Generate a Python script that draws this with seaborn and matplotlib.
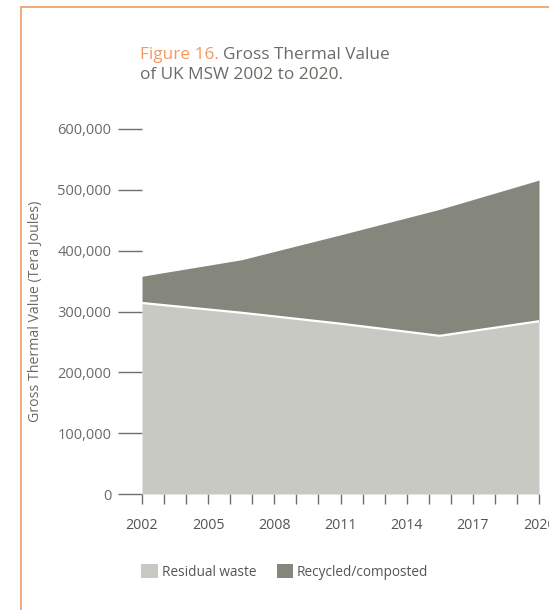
import numpy as np
import matplotlib.pyplot as plt
import seaborn as sns
from matplotlib.lines import Line2D
from matplotlib.patches import Patch
from matplotlib.ticker import FuncFormatter, MultipleLocator

# values (TJ)
years = [2002, 2006.5, 2011, 2015.5, 2020]
residual = [314000, 298000, 280000, 260000, 284000]
recycled = [44000, 87000, 146000, 208000, 232000]
tick_years = [2002, 2005, 2008, 2011, 2014, 2017, 2020]
y_ticks = [0, 100000, 200000, 300000, 400000, 500000, 600000]

RESIDUAL_COL = '#c8c9c3'
RECYCLED_COL = '#85867c'
ORANGE = '#f29a62'
TEXT_COL = '#6b6b66'

sns.set_style('white')
plt.rcParams['font.family'] = ['Open Sans', 'DejaVu Sans']

fig = plt.figure(figsize=(5.49, 6.10), dpi=100)
ax = fig.add_axes([142 / 549, 116 / 610, 397 / 549, 365 / 610])

total = np.array(residual) + np.array(recycled)
ax.fill_between(years, 0, residual, color=RESIDUAL_COL, linewidth=0)
ax.fill_between(years, residual, total, color=RECYCLED_COL, linewidth=0)
sns.lineplot(x=years, y=residual, ax=ax, color='white', linewidth=1.6)

ax.set_xlim(2002, 2020)
ax.set_ylim(0, 600000)
ax.set_yticks(y_ticks)
ax.yaxis.set_major_formatter(FuncFormatter(lambda v, p: f'{int(v):,}'))
ax.set_xticks(tick_years)
ax.xaxis.set_minor_locator(MultipleLocator(1))
for s in ax.spines.values():
    s.set_visible(False)

ax.tick_params(axis='y', direction='out', length=17, width=1, color='#6f6f68',
               labelsize=10.5, labelcolor=TEXT_COL, pad=5, left=True)
ax.tick_params(axis='x', which='both', direction='out', length=7, width=1,
               color='#6f6f68', bottom=True, pad=10)
ax.tick_params(axis='x', labelsize=10.3, labelcolor='#55554f')
ax.set_ylabel('Gross Thermal Value (Tera Joules)', fontsize=10.2, color=TEXT_COL)
ax.yaxis.set_label_coords(-0.25, 0.5)

# title, the orange part followed by the grey part
t1 = fig.text(140 / 549, 1 - 55 / 610, 'Figure 16.', color=ORANGE, fontsize=12.4,
              va='center', ha='left')
fig.canvas.draw()
bb = t1.get_window_extent()
fig.text((bb.x1 + 4) / 549, 1 - 55 / 610, 'Gross Thermal Value', color=TEXT_COL,
         fontsize=12.4, va='center', ha='left')
fig.text(140 / 549, 1 - 75 / 610, 'of UK MSW 2002 to 2020.', color=TEXT_COL,
         fontsize=12.4, va='center', ha='left')

# legend
handles = [Patch(facecolor=RESIDUAL_COL, edgecolor='none', label='Residual waste'),
           Patch(facecolor=RECYCLED_COL, edgecolor='none', label='Recycled/composted')]
leg = fig.legend(handles=handles, loc='center left', ncol=2, frameon=False,
                 bbox_to_anchor=(129 / 549, 1 - 572 / 610), fontsize=9.8,
                 handlelength=1.2, handleheight=1.2, handletextpad=0.3,
                 columnspacing=1.5)
for t in leg.get_texts():
    t.set_color('#55554f')

# orange frame
fig.add_artist(Line2D([21 / 549, 1], [1 - 7 / 610, 1 - 7 / 610], color=ORANGE, lw=1.2))
fig.add_artist(Line2D([21 / 549, 21 / 549], [1 - 7 / 610, 0], color=ORANGE, lw=1.2))

fig.savefig('out.png', dpi=100)
